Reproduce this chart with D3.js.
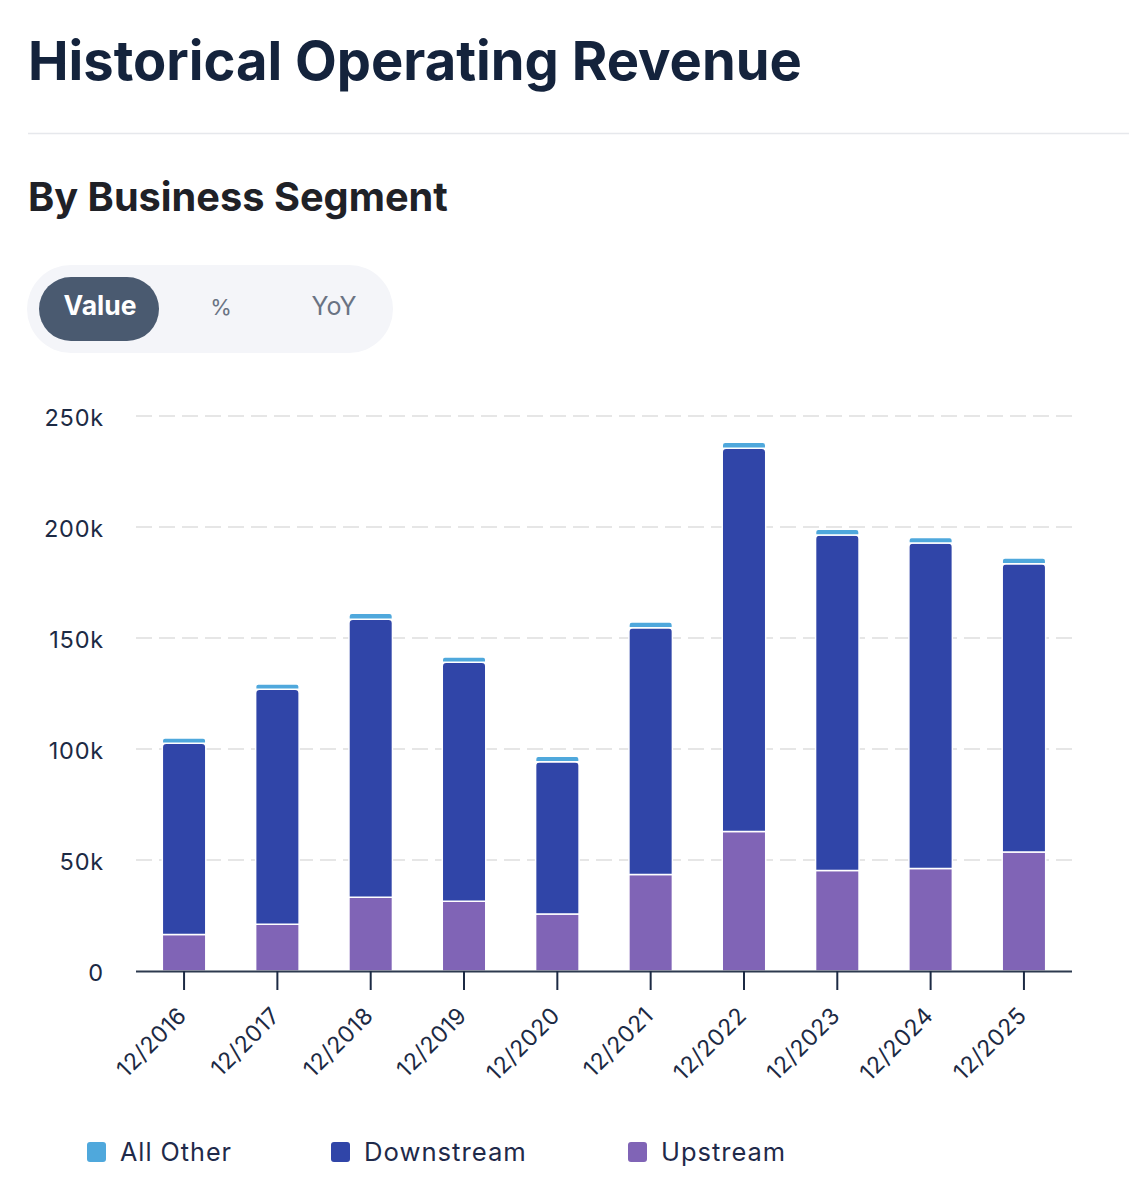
<!DOCTYPE html>
<html>
<head>
<meta charset="utf-8">
<script src="https://cdn.jsdelivr.net/npm/d3@7/dist/d3.min.js"></script>
<style>
  html, body { margin: 0; padding: 0; background: #ffffff; }
  svg { display: block; }
  text { font-family: Inter, "Open Sans", "DejaVu Sans", sans-serif; }
</style>
</head>
<body>
<svg id="chart" width="1129" height="1200"></svg>
<script>
// ---------- data ----------
const categories = ["12/2016","12/2017","12/2018","12/2019","12/2020","12/2021","12/2022","12/2023","12/2024","12/2025"];
const upstream   = [16400, 21100, 33200, 31400, 25700, 43500, 62800, 45300, 46200, 53600];
const downstream = [86200, 105800, 125200, 107700, 68600, 111100, 172700, 151100, 146600, 129900];
const allOther   = [2400, 2400, 2700, 2300, 2400, 2600, 2700, 2600, 2500, 2500];
const seriesNames = ["All Other", "Downstream", "Upstream"];
const yTicks = [0, 50000, 100000, 150000, 200000, 250000];
const toggleLabels = ["Value", "%", "YoY"];

const colors = { "All Other": "#4fa8dc", "Downstream": "#3045a8", "Upstream": "#8064b6" };

const svg = d3.select("#chart");

function fitText(sel, targetW) {
  const node = sel.node();
  const w = node.getComputedTextLength();
  const fs = parseFloat(sel.attr("font-size"));
  if (w > 0) sel.attr("font-size", fs * targetW / w);
}

// ---------- header ----------
const title = svg.append("text").attr("x", 28).attr("y", 80)
  .attr("font-size", 48).attr("font-weight", 700).attr("fill", "#14233c")
  .text("Historical Operating Revenue");
fitText(title, 774);

svg.append("line").attr("x1", 28).attr("x2", 1129).attr("y1", 133.5).attr("y2", 133.5)
  .attr("stroke", "#e6e8ec").attr("stroke-width", 1.5);

const sub = svg.append("text").attr("x", 28).attr("y", 211)
  .attr("font-size", 34).attr("font-weight", 700).attr("fill", "#1f2127")
  .text("By Business Segment");
fitText(sub, 420);

// toggle
svg.append("rect").attr("x", 27).attr("y", 265).attr("width", 366).attr("height", 88)
  .attr("rx", 44).attr("fill", "#f4f5f9");
svg.append("rect").attr("x", 39).attr("y", 277).attr("width", 120).attr("height", 64)
  .attr("rx", 32).attr("fill", "#4a5a70");
const toggleX = [100, 221, 334];
const toggleW = [73, null, 45];
toggleLabels.forEach((t, i) => {
  const tx = svg.append("text").attr("x", toggleX[i]).attr("y", 315)
    .attr("text-anchor", "middle")
    .attr("font-size", 22)
    .attr("font-weight", i === 0 ? 700 : 400)
    .attr("fill", i === 0 ? "#ffffff" : "#6a7383")
    .text(t);
  if (toggleW[i]) fitText(tx, toggleW[i]);
});

// ---------- chart ----------
const x0 = 136, x1 = 1072, yBase = 971, yTop = 416;
const x = d3.scaleBand().domain(categories).range([x0, x1]).paddingInner(0.534).paddingOuter(0.282);
const y = d3.scaleLinear().domain([0, 250000]).range([yBase, yTop]);

// grid
const grid = svg.append("g");
grid.selectAll("line").data(yTicks.filter(d => d > 0)).join("line")
  .attr("x1", x0).attr("x2", x1)
  .attr("y1", d => y(d)).attr("y2", d => y(d))
  .attr("stroke", "#e6e6e6").attr("stroke-width", 2).attr("stroke-dasharray", "16,7");

// y axis labels
const yAxis = d3.axisLeft(y).tickValues(yTicks).tickSize(0).tickPadding(0)
  .tickFormat(d => d === 0 ? "0" : (d / 1000) + "k");
const yg = svg.append("g").attr("transform", `translate(104,0)`).call(yAxis);
yg.select(".domain").remove();
yg.selectAll("text").attr("font-size", 23.5).attr("fill", "#1c2a44")
  .attr("font-family", "Inter, sans-serif").attr("letter-spacing", "0.8px").attr("dy", "0.4em");

// stacked data
const table = categories.map((c, i) => ({
  cat: c, "Upstream": upstream[i], "Downstream": downstream[i], "All Other": allOther[i]
}));
const stack = d3.stack().keys(["Upstream", "Downstream", "All Other"]);
const stacked = stack(table);

function barPath(xl, w, yt, yb, r) {
  const h = yb - yt;
  r = Math.min(r, h / 2, w / 2);
  return `M${xl},${yb} L${xl},${yt + r} Q${xl},${yt} ${xl + r},${yt} L${xl + w - r},${yt} Q${xl + w},${yt} ${xl + w},${yt + r} L${xl + w},${yb} Z`;
}

stacked.forEach(layer => {
  const key = layer.key;
  const rounded = key !== "Upstream";
  svg.append("g").selectAll("path").data(layer).join("path")
    .attr("d", d => barPath(x(d.data.cat), x.bandwidth(), y(d[1]), y(d[0]), rounded ? 4 : 0))
    .attr("fill", colors[key])
    .attr("stroke", "#ffffff").attr("stroke-width", 1.5);
});

// x axis
const xAxis = d3.axisBottom(x).tickSize(19).tickPadding(0);
const xg = svg.append("g").attr("transform", `translate(0,${yBase})`).call(xAxis);
xg.select(".domain").attr("d", `M${x0},0.5H${x1}`).attr("stroke", "#2d3a4f").attr("stroke-width", 2);
xg.selectAll(".tick line").attr("stroke", "#1c2a44").attr("stroke-width", 2);
xg.selectAll(".tick text")
  .attr("font-size", 23).attr("fill", "#1c2a44").attr("font-family", "Inter, sans-serif")
  .attr("letter-spacing", "0.5px")
  .attr("text-anchor", "end")
  .attr("y", 0).attr("dy", 0)
  .attr("transform", "translate(4,46) rotate(-45)");

// ---------- legend ----------
const legendX = [87, 331, 628];
const legendW = [113, 164, 126];
const leg = svg.append("g");
seriesNames.forEach((s, i) => {
  leg.append("rect").attr("x", legendX[i]).attr("y", 1142).attr("width", 19).attr("height", 20)
    .attr("rx", 3).attr("fill", colors[s]);
  const t = leg.append("text").attr("x", legendX[i] + 33).attr("y", 1161)
    .attr("font-size", 23).attr("fill", "#1f2a4a").attr("letter-spacing", "1px").text(s);
  fitText(t, legendW[i]);
});
</script>
</body>
</html>
